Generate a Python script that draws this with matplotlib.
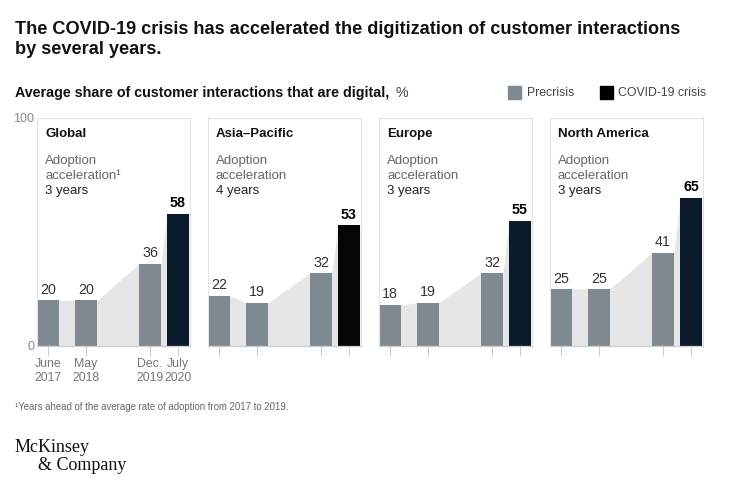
import matplotlib.pyplot as plt

# data
regions = ['Global', 'Asia\u2013Pacific', 'Europe', 'North America']
accel_sup = ['\u00b9', '', '', '']
accel_years = ['3 years', '4 years', '3 years', '3 years']
precrisis = [[20, 20, 36], [22, 19, 32], [18, 19, 32], [25, 25, 41]]
covid = [58, 53, 55, 65]
date_labels = ['June\n2017', 'May\n2018', 'Dec.\n2019', 'July\n2020']

W, H = 741, 487
GRAY = '#7f8992'
NAVY = '#0a1c2c'
SHADE = '#e6e6e6'
covid_colors = [NAVY, '#050505', NAVY, NAVY]

plt.rcParams['font.family'] = ['Liberation Sans', 'DejaVu Sans']


def fx(x):
    return x / W


def fy(y):
    return 1 - y / H


fig = plt.figure(figsize=(W / 100, H / 100), dpi=100)

fig.text(fx(15), fy(33.5), 'The COVID-19 crisis has accelerated the digitization of customer interactions',
         fontsize=13.1, fontweight='bold', va='baseline', ha='left', color='#111111')
fig.text(fx(15), fy(54.5), 'by several years.',
         fontsize=13.1, fontweight='bold', va='baseline', ha='left', color='#111111')
fig.text(fx(15), fy(93), 'Average share of customer interactions that are digital,',
         fontsize=10.3, fontweight='bold', va='center', ha='left', color='#111111')
fig.text(fx(395), fy(93), '%', fontsize=10.3, va='center', ha='left', color='#444444')

# legend
fig.patches.append(plt.Rectangle((fx(508), fy(99)), fx(13), 13 / H, color=GRAY, transform=fig.transFigure))
fig.text(fx(527), fy(93), 'Precrisis', fontsize=8.8, va='center', color='#444444')
fig.patches.append(plt.Rectangle((fx(600), fy(99)), fx(13), 13 / H, color='#000000', transform=fig.transFigure))
fig.text(fx(618), fy(93), 'COVID-19 crisis', fontsize=8.8, va='center', color='#444444')

lefts = [37, 208, 379, 550]
pw = 153
top, base = 118, 346
bar_x = [11, 49, 113, 141]
bw = 22


def ypx(y):
    # pixel row to data value inside a panel
    return (base - y) / (base - top) * 100


for i, left in enumerate(lefts):
    ax = fig.add_axes([fx(left), fy(base), pw / W, (base - top) / H])
    vals = precrisis[i] + [covid[i]]
    # shaded band connecting bar tops
    sx, sy = [], []
    for x, v in zip(bar_x, vals):
        sx += [x - bw / 2, x + bw / 2]
        sy += [v, v]
    ax.fill_between(sx, 0, sy, color=SHADE, lw=0, zorder=1)
    cols = [GRAY] * 3 + [covid_colors[i]]
    ax.bar(bar_x, vals, width=bw, color=cols, zorder=2)
    for j, (x, v) in enumerate(zip(bar_x, vals)):
        last = j == 3
        ax.annotate(str(v), (x, v), xytext=(0, 2.5), textcoords='offset points',
                    ha='center', va='bottom', fontsize=10.3,
                    fontweight='bold' if last else 'normal',
                    color='#000000' if last else '#333333')
    ax.set_xlim(0, pw)
    ax.set_ylim(0, 100)
    for s in ['top', 'left', 'right']:
        ax.spines[s].set_color('#e4e4e4')
        ax.spines[s].set_linewidth(0.8)
    ax.spines['bottom'].set_color('#cfcfcf')
    ax.spines['bottom'].set_linewidth(0.9)
    ax.set_xticks(bar_x)
    ax.tick_params(axis='x', length=7, color='#d0d0d0', width=0.8, pad=1.5,
                   labelsize=8.8, labelcolor='#777777')
    if i == 0:
        ax.set_xticklabels(date_labels, linespacing=1.25)
        ax.set_yticks([0, 100])
        ax.tick_params(axis='y', length=0, pad=2, labelsize=9, labelcolor='#888888')
    else:
        ax.set_xticklabels([])
        ax.set_yticks([])
    ax.text(8, ypx(134), regions[i], fontsize=9.5, fontweight='bold', color='#111111',
            va='center', ha='left')
    ax.text(8, ypx(161.5), 'Adoption', fontsize=9.5, color='#666666', va='center', ha='left')
    ax.text(8, ypx(176.5), 'acceleration' + accel_sup[i], fontsize=9.5, color='#666666',
            va='center', ha='left')
    ax.text(8, ypx(191.5), accel_years[i], fontsize=9.5, color='#222222', va='center', ha='left')

fig.text(fx(15), fy(407), '\u00b9Years ahead of the average rate of adoption from 2017 to 2019.',
         fontsize=6.9, color='#666666', va='center')
fig.text(fx(15), fy(448), 'McKinsey', family='Liberation Serif', fontsize=13,
         color='#111111', va='center')
fig.text(fx(38), fy(466), '& Company', family='Liberation Serif', fontsize=13,
         color='#111111', va='center')

fig.savefig('out.png', dpi=100, facecolor='white')
